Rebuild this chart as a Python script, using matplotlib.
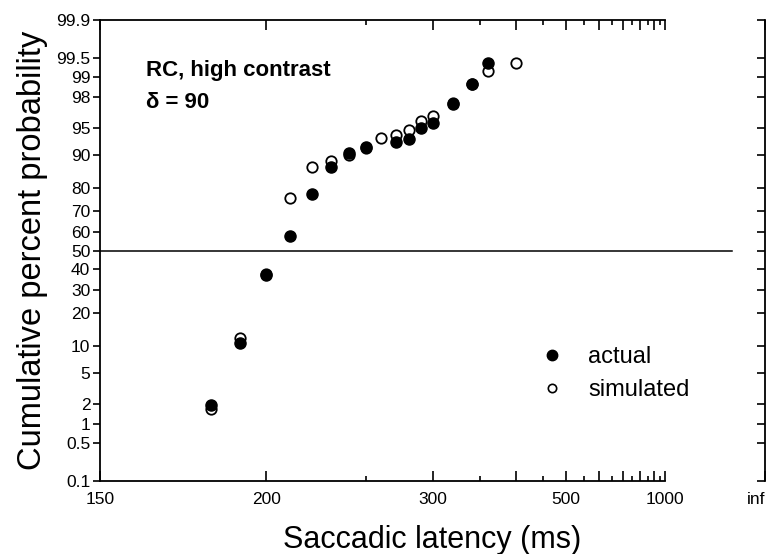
import numpy as np
import matplotlib
matplotlib.use("Agg")
import matplotlib.pyplot as plt
from matplotlib.lines import Line2D
from statistics import NormalDist

plt.rcParams['font.family'] = ['Liberation Sans', 'DejaVu Sans']

# latency bins (ms) and cumulative percentages
lat_actual = [180, 190, 200, 210, 220, 230, 240, 250, 270, 280, 290, 300, 320, 340, 360]
pct_actual = [1.9, 10.7, 37.1, 57.7, 77.5, 86.8, 90.4, 91.7, 92.7, 93.3, 95.0, 95.6, 97.5, 98.7, 99.4]

lat_sim = [180, 190, 200, 210, 220, 230, 240, 250, 260, 270, 280, 290, 300, 320, 340, 360, 400]
pct_sim = [1.7, 12.0, 37.8, 75.9, 86.8, 88.5, 90.0, 91.5, 93.4, 93.9, 94.7, 95.9, 96.4, 97.6, 98.7, 99.2, 99.4]

y_ticks = [0.1, 0.5, 1, 2, 5, 10, 20, 30, 40, 50, 60, 70, 80, 90, 95, 98, 99, 99.5, 99.9]
y_labels = ['0.1', '0.5', '1', '2', '5', '10', '20', '30', '40', '50', '60', '70', '80',
            '90', '95', '98', '99', '99.5', '99.9']
x_major = [150, 200, 300, 400, 500, 600, 700, 800, 900, 1000, 1e9]
x_labels = ['150', '200', '300', '', '500', '', '', '', '', '1000', 'inf']
x_minor = [250, 350, 450, 550, 650, 750, 850, 950]

_nd = NormalDist()


def probit(p):
    p = np.clip(np.asarray(p, dtype=float) / 100.0, 1e-12, 1 - 1e-12)
    return np.vectorize(_nd.inv_cdf, otypes=[float])(p)


def inv_probit(z):
    return 100.0 * np.vectorize(_nd.cdf, otypes=[float])(np.asarray(z, dtype=float))


def recip(t):
    with np.errstate(divide='ignore', invalid='ignore'):
        return -1.0 / np.asarray(t, dtype=float)


fig = plt.figure(figsize=(7.73, 5.54), dpi=100)
ax = fig.add_axes([100 / 773, 73 / 554, 665 / 773, 461 / 554])

ax.set_xscale('function', functions=(recip, recip))
ax.set_yscale('function', functions=(probit, inv_probit))
ax.set_xlim(150, 1e9)
ax.set_ylim(0.1, 99.9)

ax.axhline(50, xmin=0, xmax=0.95, color='black', lw=1.1)

ax.plot(lat_sim, pct_sim, 'o', ms=7.5, mfc='white', mec='black', mew=1.3, zorder=3)
ax.plot(lat_actual, pct_actual, 'o', ms=8, color='black', zorder=4)

ax.set_yticks(y_ticks)
ax.set_yticklabels(y_labels)
ax.set_yticks([], minor=True)
ax.set_xticks(x_major)
ax.set_xticklabels(x_labels)
ax.set_xticks(x_minor, minor=True)
ax.get_xticklabels()[-1].set_horizontalalignment('right')

ax.tick_params(axis='y', which='major', direction='out', length=5, width=1.2,
               labelsize=12.5, pad=2, right=False)
ax.tick_params(axis='x', which='major', direction='in', length=7, width=1.2,
               labelsize=12.5, top=True, pad=8)
ax.tick_params(axis='x', which='minor', direction='in', length=3.5, width=1.2, top=True)

for s in ['top', 'bottom']:
    ax.spines[s].set_bounds(150, 1000)
for s in ax.spines.values():
    s.set_linewidth(1.3)
ax.spines['right'].set_visible(False)

# right axis at "inf" with inward ticks
ax2 = ax.twinx()
ax2.set_yscale('function', functions=(probit, inv_probit))
ax2.set_ylim(0.1, 99.9)
ax2.set_yticks(y_ticks)
ax2.set_yticks([], minor=True)
ax2.tick_params(axis='y', direction='in', length=6, width=1.2, labelright=False)
for s in ['top', 'bottom', 'left']:
    ax2.spines[s].set_visible(False)
ax2.spines['right'].set_linewidth(1.3)

ax.set_xlabel('Saccadic latency (ms)', fontsize=22)
ax.set_ylabel('Cumulative percent probability', fontsize=23.5)
ax.xaxis.set_label_coords(0.5, -0.095)
ax.yaxis.set_label_coords(-0.078, 0.5)

ax.text(0.069, 0.8915, 'RC, high contrast', transform=ax.transAxes, fontsize=16,
        fontweight='bold', va='center', ha='left')
ax.text(0.069, 0.82, '\u03b4 = 90', transform=ax.transAxes, fontsize=16,
        fontweight='bold', va='center', ha='left')

handles = [Line2D([], [], ls='none', marker='o', ms=7.5, color='black'),
           Line2D([], [], ls='none', marker='o', ms=6, mfc='white', mec='black', mew=1.2)]
fig.legend(handles, ['actual', 'simulated'], loc='upper left',
           bbox_to_anchor=(540 / 773, 1 - 346 / 554), bbox_transform=fig.transFigure,
           frameon=False, fontsize=17, handlelength=1.0, handletextpad=1.05,
           labelspacing=0.47, borderpad=0, borderaxespad=0)

fig.savefig('out.png', dpi=100)
